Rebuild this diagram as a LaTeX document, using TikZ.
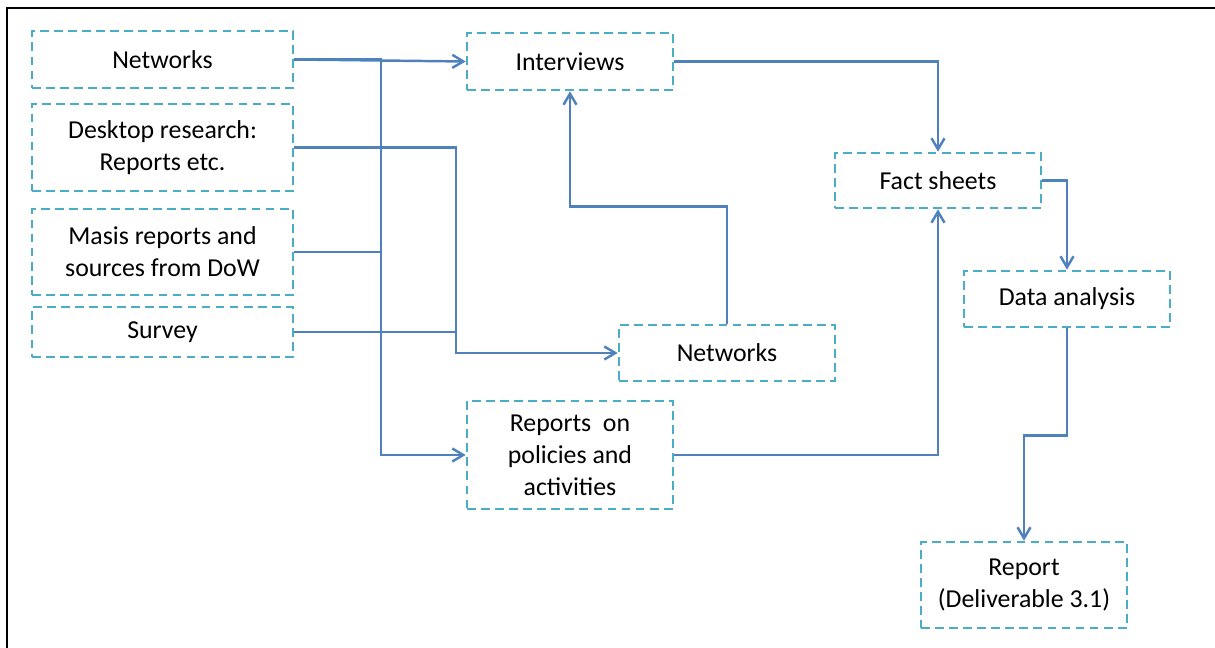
\documentclass[tikz,border=0pt]{standalone}
\usepackage{fontspec}
\setmainfont{Carlito}
\usetikzlibrary{arrows.meta,positioning,calc}

\definecolor{linkblue}{RGB}{79,129,189}
\definecolor{boxcyan}{RGB}{75,172,198}

\tikzset{
  stage/.style={draw=boxcyan, line width=1.5pt, dash pattern=on 5pt off 3pt,
    align=center, inner sep=2pt, text=black,
    font=\fontsize{14.7}{18.2}\selectfont},
  link/.style={draw=linkblue, line width=1.4pt},
}

\begin{document}
\begin{tikzpicture}[x=0.02cm, y=-0.02cm, >={Straight Barb[length=0.22cm, width=0.26cm]}]
  \useasboundingbox (0,0) rectangle (1215,648);
  \draw[line width=1.6pt] (7,648) -- (7,8) -- (1215,8);

  % sources
  \node[stage, minimum width=5.22cm, minimum height=1.14cm] (netA) at (162.5,59.5) {Networks};
  \node[stage, minimum width=5.22cm, minimum height=1.74cm] (desk) at (162.5,147.5) {Desktop research:\\Reports etc.};
  \node[stage, minimum width=5.22cm, minimum height=1.72cm] (masis) at (162.5,252) {Masis reports and\\sources from DoW};
  \node[stage, minimum width=5.22cm, minimum height=1.0cm] (survey) at (162.5,332) {Survey};

  % middle column
  \node[stage, minimum width=4.12cm, minimum height=1.14cm] (intv) at (570,61.5) {Interviews};
  \node[stage, minimum width=4.32cm, minimum height=1.12cm] (netB) at (727,353) {Networks};
  \node[stage, minimum width=4.12cm, minimum height=2.16cm] (rep) at (570,455) {Reports~ on\\policies and\\activities};

  % right column
  \node[stage, minimum width=4.12cm, minimum height=1.1cm] (fact) at (938,180.5) {Fact sheets};
  \node[stage, minimum width=4.12cm, minimum height=1.12cm] (data) at (1067,299) {Data analysis};
  \node[stage, minimum width=4.12cm, minimum height=1.72cm] (report) at (1024,585) {Report\\(Deliverable 3.1)};

  \coordinate (busA) at (381,0);
  \coordinate (busB) at (456,0);

  \draw[link, ->] (netA.east) -- (intv.west);
  \draw[link, ->] (netA.east) -- (netA.east -| busA) |- (rep.west);
  \draw[link] (masis.east) -- (masis.east -| busA);
  \draw[link, ->] (desk.east) -- (desk.east -| busB) |- (netB.west);
  \draw[link] (survey.east) -- (survey.east -| busB);

  \draw[link, ->] (netB.north) -- ++(0,-117) -| (intv.south);
  \draw[link, ->] (intv.east) -| (fact.north);
  \draw[link, ->] (rep.east) -| (fact.south);
  \draw[link, ->] (fact.east) -| (data.north);
  \draw[link, ->] (data.south) -- ++(0,107) -| (report.north);
\end{tikzpicture}
\end{document}
